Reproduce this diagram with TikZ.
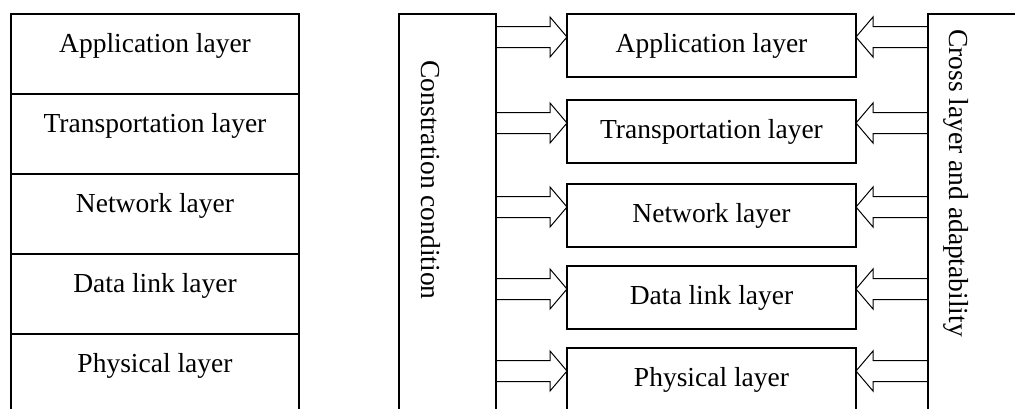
\documentclass[tikz,border=0pt]{standalone}
\usepackage{fontspec}
\setmainfont{Liberation Serif}
\usetikzlibrary{calc}
\begin{document}
\begin{tikzpicture}[x=1pt,y=-1pt,
  box/.style={draw,line width=1.2pt,inner sep=0pt,outer sep=0pt,anchor=north west},
  lbl/.style={font=\fontsize{27.5}{33}\selectfont},
  stackbox/.style={box,lbl,minimum width=288pt,text height=38pt,text depth=42pt},
  layerbox/.style={box,lbl,minimum width=289pt,text height=38pt,text depth=25pt},
  sidetxt/.style={lbl,rotate=-90,inner sep=0pt},
  blk/.style={line width=1pt,line join=miter}]
\useasboundingbox (0,0) rectangle (1015,408);
\clip (0,0) rectangle (1015,408);
% left stack
\node[stackbox] (s1) at (11,14) {Application layer};
\node[stackbox] (s2) at (s1.south west) {Transportation layer};
\node[stackbox] (s3) at (s2.south west) {Network layer};
\node[stackbox] (s4) at (s3.south west) {Data link layer};
\node[stackbox] (s5) at (s4.south west) {Physical layer};
% side boxes
\node[box,minimum width=97pt,minimum height=420pt] (cc) at (399,14) {};
\node[sidetxt] (cct) at (431,180) {Constration condition};
\node[box,minimum width=120pt,minimum height=420pt] (cl) at (928,14) {};
\node[sidetxt] (clt) at (956,183) {Cross layer and adaptability};
% middle layers
\node[layerbox] (a1) at (567,14) {Application layer};
\node[layerbox] (a2) at (567,100) {Transportation layer};
\node[layerbox] (a3) at (567,184) {Network layer};
\node[layerbox] (a4) at (567,266) {Data link layer};
\node[layerbox] (a5) at (567,348) {Physical layer};
% block arrows
\foreach \i in {1,...,5} {
  \coordinate (tl\i) at ($(a\i.north west)+(0,23)$);
  \coordinate (bl\i) at (cc.east |- tl\i);
  \coordinate (tr\i) at ($(a\i.north east)+(0,23)$);
  \coordinate (br\i) at (cl.west |- tr\i);
  \draw[blk] ($(bl\i)+(0,-10.5)$) -- ($(tl\i)+(-17,-10.5)$) -- ($(tl\i)+(-17,-20)$) -- (tl\i)
     -- ($(tl\i)+(-17,20)$) -- ($(tl\i)+(-17,10.5)$) -- ($(bl\i)+(0,10.5)$);
  \draw[blk] ($(br\i)+(0,-10.5)$) -- ($(tr\i)+(17,-10.5)$) -- ($(tr\i)+(17,-20)$) -- (tr\i)
     -- ($(tr\i)+(17,20)$) -- ($(tr\i)+(17,10.5)$) -- ($(br\i)+(0,10.5)$);
}
\end{tikzpicture}
\end{document}
